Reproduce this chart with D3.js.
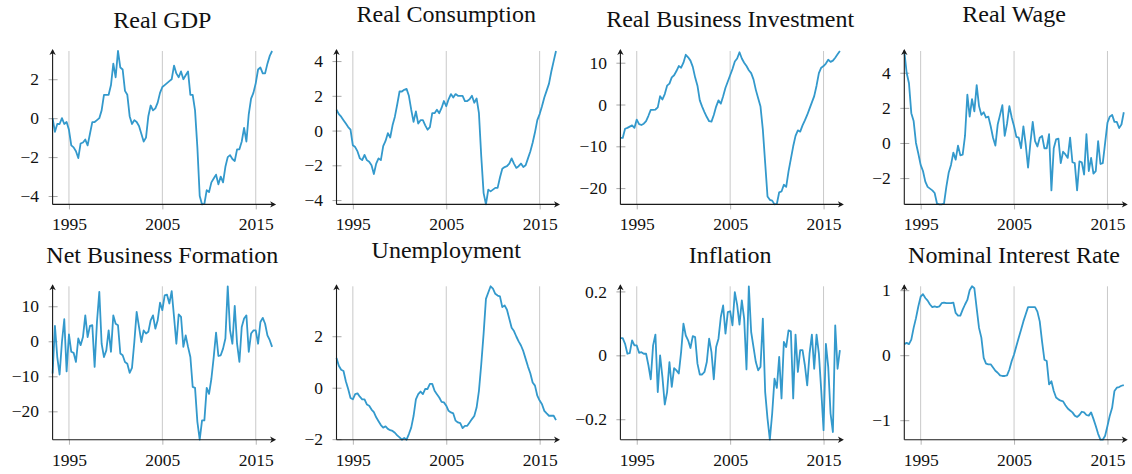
<!DOCTYPE html>
<html>
<head>
<meta charset="utf-8">
<script src="https://cdn.jsdelivr.net/npm/d3@7"></script>
<style>
  body { margin: 0; background: #fff; }
  svg text { font-family: "Liberation Serif", "DejaVu Serif", serif; fill: #111; }
</style>
</head>
<body>
<div id="chart"></div>
<script>
// quarterly observations, first one is 1993 Q2
var firstQuarter = 1993.25

var titles = ['Real GDP', 'Real Consumption', 'Real Business Investment', 'Real Wage',
  'Net Business Formation', 'Unemployment', 'Inflation', 'Nominal Interest Rate']

var xTicks = [1995, 2005, 2015]

var realGdp = [
  0, -0.7, -0.3,
  -0.3, 0.0, -0.3, -0.2,
  -0.6, -1.4, -1.5, -1.7,
  -2.05, -1.3, -1.25, -1.1,
  -1.4, -0.8, -0.2, -0.2,
  -0.1, 0.0, 0.4, 1.2,
  1.2, 1.2, 1.7, 2.8,
  2.1, 3.45, 2.6, 2.5,
  1.4, 1.2, 0.1, -0.3,
  -0.1, -0.2, -0.4, -0.8,
  -1.2, -1.0, 0.1, 0.65,
  0.4, 0.5, 0.8, 1.3,
  1.6, 1.7, 1.8, 1.9,
  2.0, 2.7, 2.3, 2.1,
  2.4, 2.0, 2.2, 2.4,
  1.2, 1.2, 0.4, -1.5,
  -4.0, -4.43, -4.4, -3.7,
  -3.8, -3.3, -3.1, -2.9,
  -3.4, -3.0, -3.3, -2.5,
  -2.0, -1.9, -2.1, -2.2,
  -1.6, -1.6, -1.2, -0.5,
  -1.2, 0.2, 1.0, 1.3,
  1.8, 2.5, 2.6, 2.3,
  2.3, 2.8, 3.2, 3.45
]

var realConsumption = [
  1.2, 0.95, 0.8,
  0.6, 0.4, 0.2, 0.05,
  -0.85, -0.95, -1.2, -1.6,
  -1.7, -1.4, -1.7, -1.8,
  -2.0, -2.5, -1.9, -1.6,
  -1.7, -0.9, -0.6, -0.15,
  -0.4, 0.3, 0.8, 1.5,
  2.25, 2.25, 2.35, 2.4,
  2.0, 1.2, 0.5, 1.1,
  0.4, 0.6, 0.6, 0.3,
  0.05, 0.2, 1.0, 1.0,
  1.2, 1.0, 1.3, 1.7,
  1.4, 1.8, 2.1, 1.9,
  2.1, 2.0, 2.0, 2.0,
  1.7, 1.7, 1.8, 2.0,
  1.6, 1.85, 1.0, -1.5,
  -3.6, -4.25, -3.4, -3.5,
  -3.4, -3.3, -3.3, -2.7,
  -2.2, -2.1, -2.05, -1.9,
  -1.6, -1.9, -2.15, -2.05,
  -1.9, -2.1, -2.0, -1.6,
  -1.2, -0.7, -0.1, 0.6,
  0.95, 1.4, 1.9, 2.3,
  2.7, 3.4, 4.0, 4.58
]

var realInvestment = [
  -8.0, -8.0, -5.8,
  -5.6, -5.3, -5.0, -5.6,
  -3.6, -4.7, -4.9, -4.6,
  -4.0, -2.7, -1.3, -1.3,
  -1.2, -0.7, 2.0, 1.2,
  2.5, 4.5, 5.0, 6.5,
  7.0, 8.0, 9.2, 8.8,
  10.0, 11.9, 11.3, 10.5,
  9.0, 6.5, 4.5, 1.0,
  -0.5, -1.8, -3.0, -4.0,
  -4.1, -2.5, -0.5, 1.0,
  0.2, 2.0, 4.0, 5.5,
  7.0, 8.5, 10.3, 11.0,
  12.5, 11.0, 10.0, 9.2,
  8.2, 7.5, 6.0, 3.5,
  1.5, -0.5, -6.0, -14.0,
  -22.0, -22.8, -23.0, -23.9,
  -23.8, -21.0, -20.8, -19.2,
  -19.7, -16.0, -13.0, -10.0,
  -7.5, -6.2, -6.5, -5.0,
  -3.8, -2.5, -1.0, 0.5,
  2.0, 4.5, 7.5, 8.8,
  9.2, 9.8, 10.7, 10.2,
  10.5, 11.2, 12.0, 12.8
]

var realWage = [
  5.24, 4.0, 3.4,
  1.7, 1.25, 0.0, -0.6,
  -1.25, -1.6, -2.2, -2.5,
  -2.6, -2.7, -2.85, -3.45,
  -3.5, -3.5, -3.45, -2.5,
  -1.7, -1.25, -0.55, -0.95,
  -0.15, -0.7, -0.67, 0.4,
  2.75, 1.5, 2.5, 1.8,
  3.3, 2.1, 1.6, 1.75,
  1.45, 1.5, 0.95, 0.3,
  -0.15, 1.05, 1.6, 2.15,
  0.4, 1.1, 2.1, 1.45,
  0.95, 0.35, 0.3, -0.3,
  0.95, -0.1, -1.4, 0.0,
  1.2, 0.1, -0.2, 0.3,
  0.4, -0.3, -0.3, 0.5,
  -2.7, -0.3, 0.2, 0.25,
  -1.15, -0.5, -0.65, -0.85,
  0.3, -1.1, -1.15, -2.7,
  -1.05, -1.1, -1.8, 0.5,
  -1.6, -0.85, -1.75, -1.6,
  0.1, -1.2, -1.15, 0.0,
  1.15, 1.5, 1.6, 1.2,
  1.2, 0.85, 1.05, 1.75
]

var netBusinessFormation = [
  -9.2, 4.4, -4.5,
  -9.5, -0.2, 6.3, -8.6,
  2.0, -3.0, -3.3, -5.9,
  0.8, -1.1, 1.2, 7.4,
  1.2, 4.4, 4.6, -7.3,
  5.5, 14.1, -0.7, -4.5,
  -2.6, 3.1, -3.0, 7.4,
  5.0, 4.6, -3.5, -4.0,
  -5.9, -6.4, -9.0, -7.6,
  -0.2, 8.4, 4.1, -0.2,
  3.1, 2.2, 2.7, 6.0,
  7.4, 3.6, 6.0, 11.0,
  8.9, 13.1, 13.3, 10.8,
  14.3, 7.0, -0.7, 7.7,
  7.0, -1.6, 1.7, -1.6,
  -4.5, -13.0, -13.3, -23.0,
  -28.1, -22.6, -22.6, -13.3,
  -15.0, -10.7, -4.5, 2.5,
  -4.2, -4.0, -2.1, 0.8,
  15.7, 3.1, -0.7, 10.1,
  -0.7, -5.9, 4.1, 6.5,
  7.4, -3.0, 2.2, 3.1,
  3.1, -0.7, 5.5, 6.7,
  5.0, 1.7, 0.3, -1.6
]

var unemployment = [
  1.15, 0.85, 0.7,
  0.65, 0.25, -0.05, -0.4,
  -0.45, -0.25, -0.22, -0.35,
  -0.45, -0.45, -0.65, -0.7,
  -0.85, -0.95, -1.15, -1.3,
  -1.45, -1.55, -1.5, -1.6,
  -1.65, -1.68, -1.75, -1.85,
  -1.93, -2.02, -1.95, -2.02,
  -1.8, -1.55, -1.1, -0.45,
  -0.25, -0.15, -0.25, -0.05,
  -0.05, 0.15, 0.15, -0.12,
  -0.25, -0.38, -0.55, -0.57,
  -0.7, -0.9, -0.96, -1.0,
  -1.28, -1.35, -1.38, -1.57,
  -1.48, -1.48, -1.35, -1.22,
  -1.1, -0.77, -0.12, 0.92,
  2.1, 3.45, 3.7, 3.94,
  3.85, 3.65, 3.58, 3.55,
  3.13, 3.2, 3.03, 2.68,
  2.33, 2.2, 1.99, 1.8,
  1.64, 1.42, 1.12, 0.82,
  0.56, 0.2, 0.08, -0.31,
  -0.5, -0.64, -0.9, -1.0,
  -1.09, -1.09, -1.09, -1.26
]

var inflation = [
  0.054, 0.054, 0.036,
  0.005, 0.007, 0.047, 0.031,
  0.031, 0.008, 0.010, 0.005,
  0.005, -0.031, -0.075, 0.031,
  0.065, -0.115, 0.0, -0.068,
  -0.154, -0.115, -0.021, -0.099,
  -0.04, -0.047, -0.057, 0.01,
  0.099, 0.062, 0.047, 0.023,
  0.06, 0.057, -0.026, -0.06,
  -0.06, -0.052, -0.021, 0.052,
  0.01, -0.075, 0.026, 0.052,
  0.12, 0.156, 0.068, 0.135,
  0.138, 0.094, 0.198, 0.158,
  0.096, 0.172, 0.115, -0.044,
  0.216, 0.073, 0.026, -0.021,
  -0.047, -0.036, 0.115, -0.115,
  -0.198, -0.264, -0.182, -0.073,
  -0.102, -0.005, -0.135, 0.042,
  0.026, 0.078, 0.075, -0.135,
  0.065, -0.052, 0.016, 0.016,
  -0.031, -0.094, 0.005, 0.065,
  -0.042, 0.065, 0.005, -0.109,
  -0.234, 0.036, -0.036, -0.182,
  -0.24, 0.094, -0.042, 0.016
]

var nominalRate = [
  0.17, 0.19, 0.17,
  0.24, 0.42, 0.57, 0.75,
  0.9, 0.94, 0.88, 0.84,
  0.78, 0.74, 0.75, 0.74,
  0.75, 0.8, 0.81, 0.8,
  0.8, 0.8, 0.81, 0.65,
  0.61, 0.61, 0.7, 0.78,
  0.85, 1.0, 1.06, 1.03,
  0.72, 0.42, 0.27, -0.04,
  -0.13, -0.14, -0.14, -0.19,
  -0.24, -0.27, -0.31, -0.32,
  -0.32, -0.31, -0.22, -0.09,
  0.01, 0.14, 0.27, 0.39,
  0.52, 0.63, 0.74, 0.74,
  0.74, 0.74, 0.67, 0.52,
  0.21, -0.07, -0.09, -0.45,
  -0.4, -0.55, -0.65, -0.68,
  -0.7, -0.71, -0.77, -0.82,
  -0.85, -0.88, -0.93, -0.95,
  -0.92, -0.87, -0.88, -0.92,
  -0.93, -0.88, -0.98, -1.09,
  -1.21, -1.3, -1.3, -1.24,
  -1.09, -0.93, -0.81, -0.55,
  -0.5, -0.49, -0.47, -0.46
]

var series = [realGdp, realConsumption, realInvestment, realWage,
  netBusinessFormation, unemployment, inflation, nominalRate]

var yTicks = [
  [-4, -2, 0, 2],
  [-4, -2, 0, 2, 4],
  [-20, -10, 0, 10],
  [-2, 0, 2, 4],
  [-20, -10, 0, 10],
  [-2, 0, 2],
  [-0.2, 0, 0.2],
  [-1, 0, 1]
]

// layout
var colLeft = [52.6, 336.5, 620.4, 904.3]
var rowTop = [51, 286.3]
var titleBaseline = [27.7, 21.7, 27.3, 21.7, 263, 257.7, 263, 263]
var plotWidth = 219.5
var plotHeight = 153.4
var lineColor = '#3399cc'
var serif = '"Liberation Serif", "DejaVu Serif", serif'

var svg = d3.select('#chart')
  .append('svg')
  .attr('width', 1132)
  .attr('height', 474)

var minus = d => String(d).replace('-', '\u2212')

series.forEach((values, i) => {
  var col = i % 4
  var row = Math.floor(i / 4)
  var g = svg.append('g')
    .attr('transform', `translate(${colLeft[col]},${rowTop[row]})`)

  var data = values.map((v, k) => ({ t: firstQuarter + k / 4, v: v }))

  var x = d3.scaleLinear()
    .domain(d3.extent(data, d => d.t))
    .range([0, plotWidth])
  var y = d3.scaleLinear()
    .domain(d3.extent(values))
    .range([plotHeight, 0])

  // vertical grid at the year ticks
  g.selectAll('.grid')
    .data(xTicks)
    .join('line')
    .attr('class', 'grid')
    .attr('x1', d => x(d)).attr('x2', d => x(d))
    .attr('y1', 0).attr('y2', plotHeight)
    .attr('stroke', '#c9c9c9')
    .attr('stroke-width', 1)

  // x axis labels + ticks
  var xAxis = d3.axisBottom(x)
    .tickValues(xTicks)
    .tickFormat(d3.format('d'))
    .tickSize(5)
    .tickPadding(8.5)
  var gx = g.append('g')
    .attr('transform', `translate(0,${plotHeight})`)
    .call(xAxis)
    .attr('font-family', serif)
    .attr('font-size', 17.5)
  gx.select('.domain').remove()
  gx.selectAll('line').attr('stroke', '#b5b5b5')
  gx.selectAll('text').attr('fill', '#111')

  // y axis labels + ticks
  var yAxis = d3.axisLeft(y)
    .tickValues(yTicks[i])
    .tickFormat(minus)
    .tickSize(4)
    .tickPadding(9.5)
  var gy = g.append('g').call(yAxis)
    .attr('font-family', serif)
    .attr('font-size', 17.5)
  gy.select('.domain').remove()
  gy.selectAll('line').attr('x1', 5).attr('x2', -4).attr('stroke', '#a8a8a8')
  gy.selectAll('text').attr('fill', '#111')

  // the series
  var line = d3.line()
    .x(d => x(d.t))
    .y(d => y(d.v))
  g.append('path')
    .attr('d', line(data))
    .attr('fill', 'none')
    .attr('stroke', lineColor)
    .attr('stroke-width', 1.8)
    .attr('stroke-linejoin', 'round')

  // axis lines with arrow tips
  var arrow = 'M0,0 L-6,-3.2 L-4.3,0 L-6,3.2 Z'
  g.append('line')
    .attr('x1', 0).attr('x2', plotWidth + 2)
    .attr('y1', plotHeight).attr('y2', plotHeight)
    .attr('stroke', '#1a1a1a').attr('stroke-width', 1.1)
  g.append('path')
    .attr('d', arrow)
    .attr('transform', `translate(${plotWidth + 4},${plotHeight})`)
    .attr('fill', '#1a1a1a')
  g.append('line')
    .attr('x1', 0).attr('x2', 0)
    .attr('y1', plotHeight).attr('y2', -1)
    .attr('stroke', '#1a1a1a').attr('stroke-width', 1.1)
  g.append('path')
    .attr('d', arrow)
    .attr('transform', 'translate(0,-2) rotate(-90)')
    .attr('fill', '#1a1a1a')

  // title
  svg.append('text')
    .attr('x', colLeft[col] + plotWidth / 2)
    .attr('y', titleBaseline[i])
    .attr('text-anchor', 'middle')
    .attr('font-size', 24)
    .text(titles[i])
})
</script>
</body>
</html>
